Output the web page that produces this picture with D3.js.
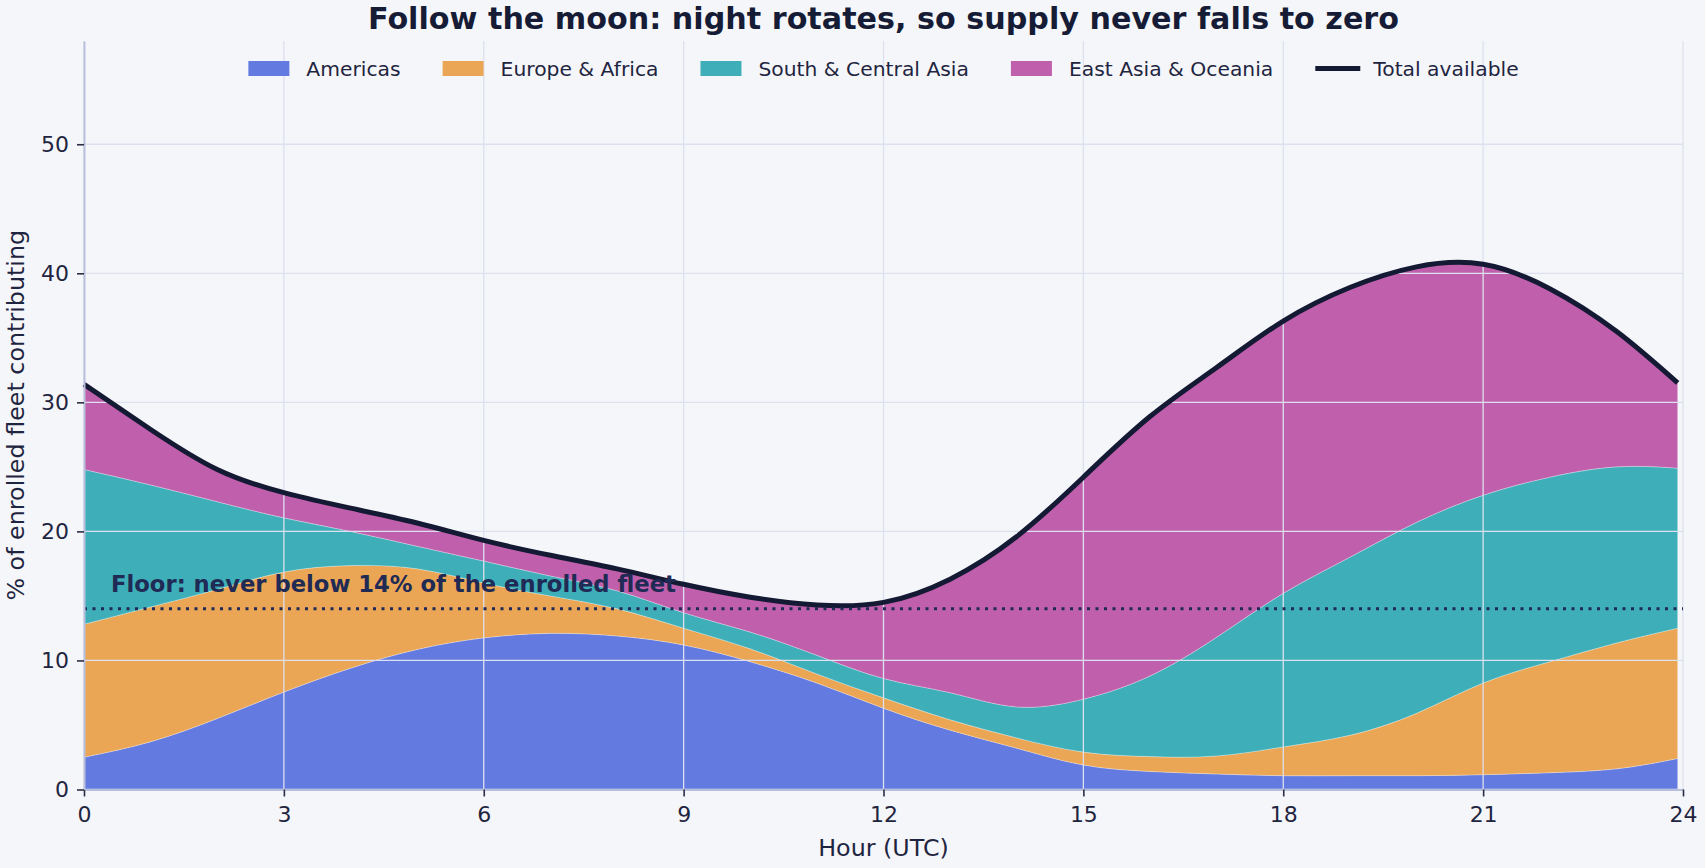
<!DOCTYPE html>
<html>
<head>
<meta charset="utf-8">
<script src="https://cdn.jsdelivr.net/npm/d3@7"></script>
<style>
  html, body { margin: 0; padding: 0; background: #f5f6fa; }
  svg { display: block; font-family: "DejaVu Sans", sans-serif; }
</style>
</head>
<body>
<div id="chart"></div>
<script>
// ================================================
// values, one entry per hour (last one just before midnight)
var hours = [0, 1, 2, 3, 4, 5, 6, 7, 8, 9, 10, 11, 12, 13, 14, 15, 16, 17, 18, 19, 20, 21, 22, 23, 23.92];

var americas = [2.5, 3.7, 5.5, 7.55, 9.4, 10.85, 11.75, 12.1, 11.9, 11.2, 9.9, 8.25, 6.3, 4.6, 3.2, 1.9, 1.4, 1.2, 1.07, 1.07, 1.07, 1.15, 1.3, 1.6, 2.4];
var europeAfrica = [10.3, 10.45, 10.0, 9.3, 7.95, 6.25, 4.25, 2.9, 2.1, 1.3, 1.0, 0.7, 0.8, 0.8, 0.8, 1.0, 1.15, 1.4, 2.23, 3.13, 4.83, 7.1, 8.6, 9.75, 10.1];
var southCentralAsia = [12.0, 9.45, 6.8, 4.2, 2.65, 1.75, 1.7, 1.55, 1.4, 1.2, 1.3, 1.45, 1.5, 2.1, 2.4, 4.1, 6.25, 9.2, 11.9, 13.8, 14.8, 14.55, 14.3, 13.65, 12.4];
var eastAsiaOceania = [6.6, 4.3, 2.5, 1.95, 1.8, 1.8, 1.6, 1.6, 1.7, 2.2, 2.7, 3.9, 5.9, 8.8, 13.2, 17.2, 20.1, 20.9, 21.1, 20.9, 19.8, 17.9, 14.6, 10.5, 6.6];

var regions = ["Americas", "Europe & Africa", "South & Central Asia", "East Asia & Oceania"];
var regionColors = ["#637ae0", "#eaa654", "#3eafb8", "#c060ad"];

var xTicks = [0, 3, 6, 9, 12, 15, 18, 21, 24];
var yTicks = [0, 10, 20, 30, 40, 50];
var floorValue = 14;

function drawChart() {
  var W = 1705, H = 868;
  var margin = { top: 41, right: 22, bottom: 78.5, left: 84 },
    width = W - margin.left - margin.right,
    height = H - margin.top - margin.bottom;

  var ink = "#161c35";

  // build the rows for d3.stack
  var rows = hours.map(function (h, i) {
    var r = { hour: h };
    r[regions[0]] = americas[i];
    r[regions[1]] = europeAfrica[i];
    r[regions[2]] = southCentralAsia[i];
    r[regions[3]] = eastAsiaOceania[i];
    r.total = americas[i] + europeAfrica[i] + southCentralAsia[i] + eastAsiaOceania[i];
    return r;
  });

  var svg = d3.select("#chart").append("svg")
    .attr("width", W)
    .attr("height", H);

  svg.append("rect").attr("width", W).attr("height", H).attr("fill", "#f5f6fa");

  var g = svg.append("g")
    .attr("transform", "translate(" + margin.left + "," + margin.top + ")");

  var x = d3.scaleLinear().domain([0, 24]).range([0, width]);
  var y = d3.scaleLinear().domain([0, 58]).range([height, 0]);

  var color = d3.scaleOrdinal().domain(regions).range(regionColors);

  var stacked = d3.stack().keys(regions)(rows);

  var curve = d3.curveNatural;

  // stacked areas
  g.selectAll(".layer")
    .data(stacked)
    .enter()
    .append("path")
    .attr("class", "layer")
    .attr("fill", function (d) { return color(d.key); })
    .attr("stroke", "#ffffff")
    .attr("stroke-opacity", 0.35)
    .attr("stroke-width", 0.8)
    .attr("d", d3.area()
      .curve(curve)
      .x(function (d) { return x(d.data.hour); })
      .y0(function (d) { return y(d[0]); })
      .y1(function (d) { return y(d[1]); }));

  // grid on top of the areas
  var grid = g.append("g").attr("class", "grid");
  grid.selectAll(".vg").data(xTicks).enter().append("line")
    .attr("x1", function (d) { return x(d); })
    .attr("x2", function (d) { return x(d); })
    .attr("y1", 0).attr("y2", height)
    .attr("stroke", "#dde1ef").attr("stroke-width", 1.3);
  grid.selectAll(".hg").data(yTicks).enter().append("line")
    .attr("x1", 0).attr("x2", width)
    .attr("y1", function (d) { return y(d); })
    .attr("y2", function (d) { return y(d); })
    .attr("stroke", "#dde1ef").attr("stroke-width", 1.3);

  // total line
  g.append("path")
    .datum(rows)
    .attr("fill", "none")
    .attr("stroke", "#141a33")
    .attr("stroke-width", 5)
    .attr("d", d3.line()
      .curve(curve)
      .x(function (d) { return x(d.hour); })
      .y(function (d) { return y(d.total); }));

  // floor line + label
  g.append("line")
    .attr("x1", 0).attr("x2", width)
    .attr("y1", y(floorValue)).attr("y2", y(floorValue))
    .attr("stroke", "#1f2a55")
    .attr("stroke-width", 3)
    .attr("stroke-dasharray", "3,5.5");

  g.append("text")
    .attr("x", 27)
    .attr("y", y(floorValue) - 17)
    .attr("fill", "#1f2a55")
    .style("font-size", "22.7px")
    .style("font-weight", "bold")
    .text("Floor: never below 14% of the enrolled fleet");

  // X axis
  var xAxis = g.append("g")
    .attr("transform", "translate(0," + height + ")")
    .call(d3.axisBottom(x).tickValues(xTicks).tickSize(7).tickSizeOuter(0).tickPadding(10));
  xAxis.select(".domain").attr("stroke", "#b9c0dc").attr("stroke-width", 2);
  xAxis.selectAll(".tick line").attr("stroke", "#2a2f45").attr("stroke-width", 1.6);
  xAxis.selectAll(".tick text").attr("fill", "#1f2540").style("font-size", "22px")
    .style("font-family", "DejaVu Sans");

  // Y axis
  var yAxis = g.append("g")
    .call(d3.axisLeft(y).tickValues(yTicks).tickSize(7).tickSizeOuter(0).tickPadding(8));
  yAxis.select(".domain").attr("stroke", "#b9c0dc").attr("stroke-width", 2);
  yAxis.selectAll(".tick line").attr("stroke", "#2a2f45").attr("stroke-width", 1.6);
  yAxis.selectAll(".tick text").attr("fill", "#1f2540").style("font-size", "22px")
    .style("font-family", "DejaVu Sans");

  // axis labels
  svg.append("text")
    .attr("x", margin.left + width / 2)
    .attr("y", 856)
    .attr("text-anchor", "middle")
    .attr("fill", "#1f2540")
    .style("font-size", "23.8px")
    .text("Hour (UTC)");

  svg.append("text")
    .attr("transform", "translate(24," + (margin.top + height / 2) + ") rotate(-90)")
    .attr("text-anchor", "middle")
    .attr("fill", "#1f2540")
    .style("font-size", "23.8px")
    .text("% of enrolled fleet contributing");

  // title
  svg.append("text")
    .attr("x", margin.left + width / 2)
    .attr("y", 28.5)
    .attr("text-anchor", "middle")
    .attr("fill", ink)
    .style("font-size", "30.2px")
    .style("font-weight", "bold")
    .text("Follow the moon: night rotates, so supply never falls to zero");

  // legend
  var legendItems = regions.map(function (r) { return { name: r, type: "area" }; });
  legendItems.push({ name: "Total available", type: "line" });

  var legend = svg.append("g");
  var cursor = 0;
  legendItems.forEach(function (item) {
    var lg = legend.append("g").attr("transform", "translate(" + cursor + ",0)");
    if (item.type === "area") {
      lg.append("rect").attr("x", 0).attr("y", 61).attr("width", 41).attr("height", 15)
        .attr("fill", color(item.name));
    } else {
      lg.append("line").attr("x1", 0).attr("x2", 45).attr("y1", 68.5).attr("y2", 68.5)
        .attr("stroke", "#141a33").attr("stroke-width", 5);
    }
    var t = lg.append("text").attr("x", 58).attr("y", 76)
      .attr("fill", "#1f2540").style("font-size", "20.3px").text(item.name);
    cursor += 58 + t.node().getComputedTextLength() + 42;
  });
  var legendWidth = cursor - 42;
  legend.attr("transform", "translate(" + (margin.left + width / 2 - legendWidth / 2) + ",0)");
}

drawChart();
</script>
</body>
</html>
